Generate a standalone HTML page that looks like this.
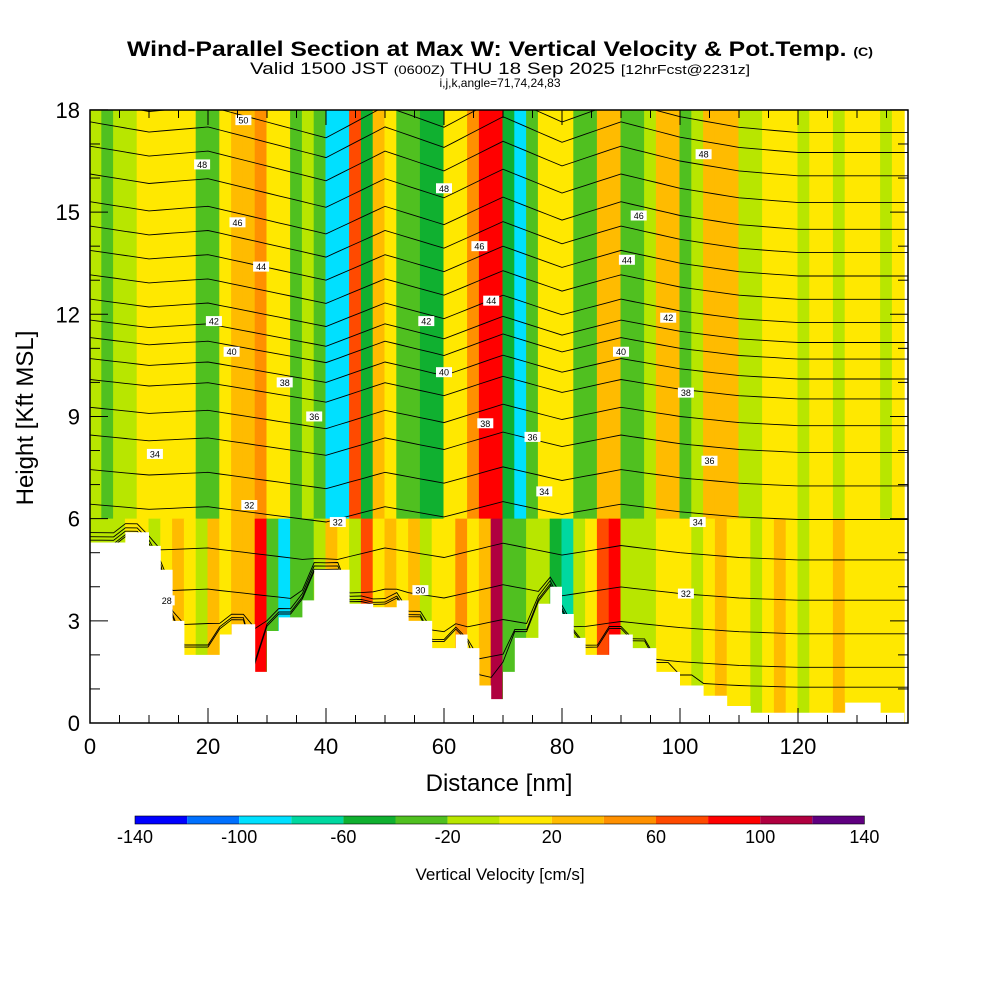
<!DOCTYPE html>
<html><head><meta charset="utf-8"><style>
body{margin:0;background:#fff;}
svg{display:block;font-family:"Liberation Sans",sans-serif;}
</style></head><body>
<svg id="chart" width="1000" height="1000" viewBox="0 0 1000 1000">
<text x="500" y="56" text-anchor="middle" font-size="21" font-weight="bold" textLength="746" lengthAdjust="spacingAndGlyphs">Wind-Parallel Section at Max W: Vertical Velocity &amp; Pot.Temp. <tspan font-size="12">(C)</tspan></text>
<text x="500" y="74" text-anchor="middle" font-size="17" textLength="500" lengthAdjust="spacingAndGlyphs">Valid 1500 JST <tspan font-size="12">(0600Z)</tspan> THU 18 Sep 2025 <tspan font-size="13">[12hrFcst@2231z]</tspan></text>
<text x="500" y="87" text-anchor="middle" font-size="12">i,j,k,angle=71,74,24,83</text>
<defs><clipPath id="pc"><rect x="90" y="110" width="818" height="613"/></clipPath></defs>
<g id="field" clip-path="url(#pc)"></g>
<g id="theta" clip-path="url(#pc)"></g>
<g id="terrain" clip-path="url(#pc)"></g>
<g id="labels"></g>
<rect x="90" y="110" width="818" height="613" fill="none" stroke="#000" stroke-width="1.5"/>
<g id="axes"></g>
<text x="499" y="791" text-anchor="middle" font-size="24">Distance [nm]</text>
<text transform="translate(33,418) rotate(-90)" text-anchor="middle" font-size="24">Height [Kft MSL]</text>
<g id="cbar"></g>
<text x="500" y="880" text-anchor="middle" font-size="17">Vertical Velocity [cm/s]</text>
</svg>
<script>
const colors=["#0000ff","#0070ff","#00e0ff","#00d8a0","#10b030","#50c020","#b8e600","#ffe800","#ffbb00","#ff9000","#ff4a00","#ff0000","#b00040","#600080"];
const cbarTicks=[-140,-100,-60,-20,20,60,100,140];
// column w values every 2 nm (upper 6-18 kft)
const wUpper=[-10,-30,-10,-10,10,10,10,10,10,-40,-40,10,30,30,50,10,10,-30,-10,-40,-90,-90,70,-50,30,10,-30,-30,-50,-50,10,10,40,90,90,-50,-90,-40,10,10,10,-30,-30,30,30,-40,-40,-10,30,30,-40,-10,30,30,30,-10,-10,10,10,10,-10,10,10,-10,10,10,10,-10,10];
// lower 0-6 kft
const wLower=[-10,-10,-10,10,10,-10,10,30,10,-10,30,10,30,30,90,-40,-90,-40,-30,-10,30,10,-10,70,10,30,10,30,-10,10,10,40,10,30,110,-30,-40,-10,-10,-60,-70,-10,10,60,90,-20,-10,-10,10,10,10,-10,10,30,10,10,-10,10,30,10,-10,10,10,30,10,10,10,10,10];
const terrain=[5.3,5.3,5.3,5.6,5.6,5.2,4.5,3,2,2,2,2.6,2.9,2.9,1.5,2.7,3.1,3.1,3.6,4.5,4.5,4.5,3.5,3.5,3.4,3.4,3.6,3.0,3.0,2.2,2.2,2.6,2.2,1.1,0.7,1.5,2.5,2.5,3.5,4.0,3.2,2.5,2.0,2.0,2.6,2.6,2.2,2.2,1.5,1.5,1.1,1.1,0.8,0.8,0.5,0.5,0.3,0.3,0.3,0.3,0.3,0.3,0.3,0.3,0.6,0.6,0.6,0.3,0.3];
const thetaLevels=[29,30,31,32,33,34,35,36,37,38,39,40,41,42,43,44,45,46,47,48,49,50];
const thetaBase=[1.2,1.8,2.8,3.8,5.0,6.2,7.2,8.2,9.0,9.8,10.4,11.0,11.5,12.1,12.8,13.5,14.2,14.9,15.7,16.5,17.2,17.8];
// displacement (kft) every 10 nm, 0..140
const thetaDisp=[0.3,0.1,0.2,-0.1,-0.4,0.2,-0.2,0.4,-0.1,0.3,0.0,-0.2,-0.3,-0.3,-0.3];
const labelTexts=["50","48","46","44","42","40","38","36","34","32","28","48","46","42","40","38","36","34","32","30","44","48","46","44","42","40","38","36","34","32"];
const labelNm=[26,19,25,29,21,24,33,38,11,27,13,60,66,57,60,67,75,77,42,56,68,104,93,91,98,90,101,105,103,101];
const labelK=[17.7,16.4,14.7,13.4,11.8,10.9,10.0,9.0,7.9,6.4,3.6,15.7,14.0,11.8,10.3,8.8,8.4,6.8,5.9,3.9,12.4,16.7,14.9,13.6,11.9,10.9,9.7,7.7,5.9,3.8];
const X=nm=>90+nm*5.9, Y=k=>723-k*34.06;
const col=w=>colors[Math.max(0,Math.min(13,Math.floor((w+140)/20)))];
const NS="http://www.w3.org/2000/svg";
function mk(t,a,p){const e=document.createElementNS(NS,t);for(const k in a)e.setAttribute(k,a[k]);p.appendChild(e);return e;}
const field=document.getElementById('field');
wUpper.forEach((w,i)=>{
  const r=mk('rect',{x:X(i*2)-0.5,y:Y(18),width:2*5.9+1,height:Y(6)-Y(18)+1,fill:col(w)},field);
  
  
});
wLower.forEach((w,i)=>{
  const r=mk('rect',{x:X(i*2)-0.5,y:Y(6),width:2*5.9+1,height:Y(0)-Y(6),fill:col(w)},field);
  
  
});
const th=document.getElementById('theta');
thetaLevels.forEach((lv,j)=>{
  let pts=[];
  for(let nm=0;nm<=140;nm+=2){
    const i=Math.min(13,Math.floor(nm/10)),f=(nm-i*10)/10;
    const d=thetaDisp[i]*(1-f)+thetaDisp[Math.min(14,i+1)]*f;
    const t=terrain[Math.min(terrain.length-1,nm/2)];
    let k=thetaBase[j]+d*(0.5+j/20);
    if(k<t+0.3) k=t+0.3+(k-t)*0.1;
    pts.push(X(nm).toFixed(1)+','+Y(k).toFixed(1));
  }
  const p=mk('polyline',{points:pts.join(' '),fill:'none',stroke:'#000','stroke-width':0.9},th);
  
  
});
const ter=document.getElementById('terrain');
let tp=[X(0)+','+Y(0)];
terrain.forEach((k,i)=>{tp.push(X(i*2)+','+Y(k));tp.push(X(i*2+2)+','+Y(k));});
tp.push(X(138)+','+Y(0));
const tpoly=mk('polygon',{points:tp.join(' '),fill:'#fff'},ter);


const lab=document.getElementById('labels');
labelTexts.forEach((t,i)=>{
  const g=mk('g',{},lab);
  
  
  mk('rect',{x:X(labelNm[i])-8,y:Y(labelK[i])-5,width:16,height:10,fill:'#fff'},g);
  const tx=mk('text',{x:X(labelNm[i]),y:Y(labelK[i])+3.5,'text-anchor':'middle','font-size':9},g);
  tx.textContent=t;
});
const ax=document.getElementById('axes');
for(let k=0;k<=18;k++){
  const L=k%3==0?18:10;
  mk('line',{x1:90,x2:90+L,y1:Y(k),y2:Y(k),stroke:'#000'},ax);
  mk('line',{x1:908,x2:908-L,y1:Y(k),y2:Y(k),stroke:'#000'},ax);
  if(k%3==0){const t=mk('text',{x:80,y:Y(k)+8,'text-anchor':'end','font-size':22},ax);t.textContent=k;
    }
}
for(let nm=0;nm<=135;nm+=5){
  const L=nm%20==0?15:8;
  mk('line',{x1:X(nm),x2:X(nm),y1:723,y2:723-L,stroke:'#000'},ax);
  mk('line',{x1:X(nm),x2:X(nm),y1:110,y2:110+L,stroke:'#000'},ax);
  if(nm%20==0){const t=mk('text',{x:X(nm),y:754,'text-anchor':'middle','font-size':22},ax);t.textContent=nm;
    }
}
const cb=document.getElementById('cbar');
colors.forEach((c,i)=>{
  const r=mk('rect',{x:135+i*52.1,y:816,width:52.1,height:8,fill:c},cb);
  
  
});
mk('rect',{x:135,y:816,width:729.4,height:8,fill:'none',stroke:'#000','stroke-width':0.6},cb);
cbarTicks.forEach((v,i)=>{
  const t=mk('text',{x:135+i*104.2,y:843,'text-anchor':'middle','font-size':18},cb);
  t.textContent=v;
  
  
});
</script>
</body></html>
